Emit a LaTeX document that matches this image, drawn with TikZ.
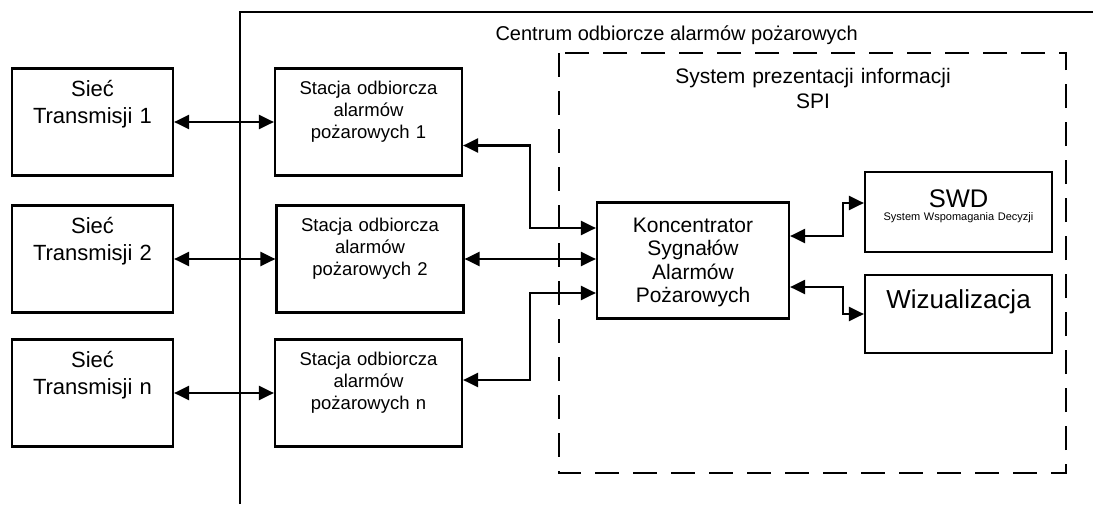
\documentclass[tikz,border=0pt]{standalone}
\usepackage{fontspec}
\setmainfont{Liberation Sans}
\usetikzlibrary{arrows.meta}

\begin{document}
\begin{tikzpicture}[x=1pt, y=-1pt,
    box/.style={draw, line width=2.2pt, inner sep=0pt, align=center},
    siec/.style={box, text width=161pt, text height=28pt, text depth=79pt, font=\fontsize{22}{27}\selectfont},
    stacja/.style={box, text width=187pt, text height=26pt, text depth=81pt, font=\fontsize{18.5}{22}\selectfont},
    link/.style={line width=2.2pt, {Triangle[length=15pt,width=14pt]}-{Triangle[length=15pt,width=14pt]}}
]
    \useasboundingbox (0,0) rectangle (1093,504);

    % Frame of the centre and the SPI area
    \draw[line width=2.2pt] (240,504) -- (240,12) -- (1093,12);
    \draw[line width=2pt, dash pattern=on 24pt off 14pt] (559,53) rectangle (1066,473);
    \node[anchor=base west, font=\fontsize{20}{24}\selectfont] (centrum) at (492,40) {Centrum odbiorcze alarmów pożarowych};
    \node[anchor=base, text width=320pt, align=center, font=\fontsize{21}{25}\selectfont] (spi) at (813,83) {System prezentacji informacji\\SPI};

    % Define nodes
    \node[siec] (siec1) at (92.5,122) {Sieć\\Transmisji 1};
    \node[siec] (siec2) at (92.5,259) {Sieć\\Transmisji 2};
    \node[siec] (siec3) at (92.5,393) {Sieć\\Transmisji n};

    \node[stacja] (stacja1) at (368.5,122) {Stacja odbiorcza\\alarmów\\pożarowych 1};
    \node[stacja] (stacja2) at (370,259) {Stacja odbiorcza\\alarmów\\pożarowych 2};
    \node[stacja] (stacja3) at (368.5,393) {Stacja odbiorcza\\alarmów\\pożarowych n};

    \node[box, text width=192pt, text height=29.5pt, text depth=86.5pt, font=\fontsize{21}{23.5}\selectfont] (konc) at (693,260.5) {Koncentrator\\Sygnałów\\Alarmów\\Pożarowych};

    \node[box, text width=187pt, text height=35pt, text depth=45pt, font=\fontsize{11}{13}\selectfont] (swd) at (958.5,212) {{\fontsize{25.5}{28}\selectfont SWD}\\System Wspomagania Decyzji};
    \node[box, text width=187pt, text height=33pt, text depth=45pt, font=\fontsize{26}{30}\selectfont] (wiz) at (958.5,314) {Wizualizacja};

    % Links between the transmission networks and the stations
    \draw[link] (siec1) -- (stacja1);
    \draw[link] (siec2) -- (stacja2);
    \draw[link] (siec3) -- (stacja3);

    % Links from the stations to the concentrator
    \draw[link] ([yshift=-23.5pt]stacja1.east) -- ++(67,0) |- ([yshift=32.5pt]konc.west);
    \draw[link] (stacja2.east) -- (stacja2.east -| konc.west);
    \draw[link] ([yshift=13pt]stacja3.east) -- ++(67,0) |- ([yshift=-32.5pt]konc.west);

    % Links to SWD and visualisation
    \draw[link] ([yshift=24.5pt]konc.east) -- ++(53,0) |- ([yshift=9pt]swd.west);
    \draw[link] ([yshift=-26.5pt]konc.east) -- ++(53,0) |- (wiz.west);
\end{tikzpicture}
\end{document}
